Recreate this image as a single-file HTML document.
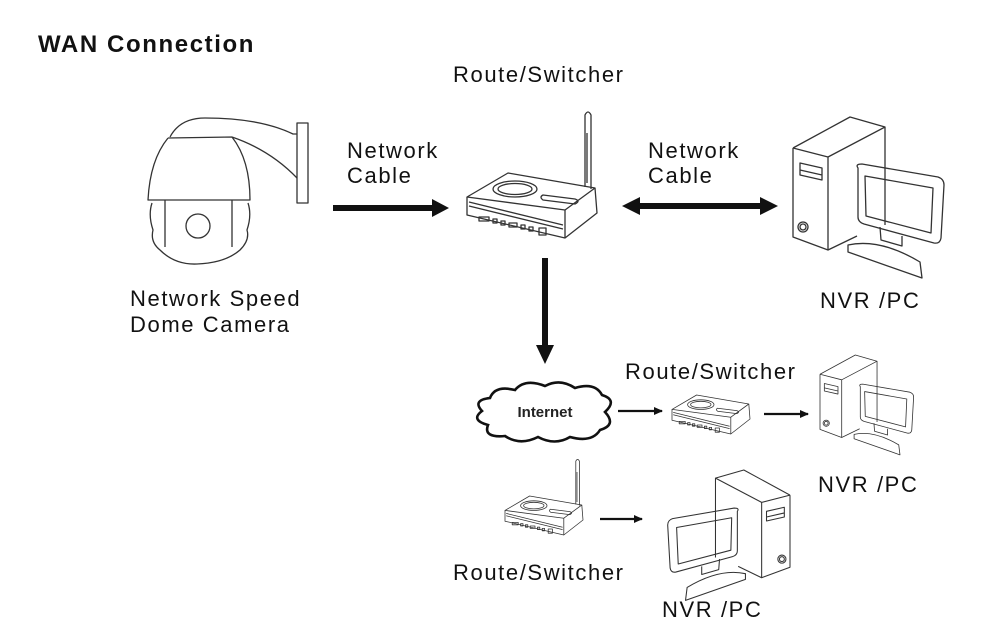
<!DOCTYPE html>
<html><head><style>
body{margin:0;background:#fff;}
svg{display:block;font-family:"Liberation Sans",Arial,sans-serif;}
.l{fill:none;stroke:#333;stroke-width:1.3;stroke-linejoin:round;}
.t{font-size:22px;fill:#111;letter-spacing:1.6px;}
</style></head><body>
<svg width="1000" height="634" viewBox="0 0 1000 634" xmlns="http://www.w3.org/2000/svg">
<defs>
<g id="router">
  <path class="l" d="M0,24 L41,0 L128,15 L98,37 Z"/>
  <path class="l" d="M0,24 L0,42 L98,65 L130,40 L128,15 M98,37 L98,65"/>
  <path class="l" d="M2,29 L96,52 M2,33 L96,56"/>
  <ellipse class="l" cx="48" cy="16" rx="22" ry="8"/>
  <ellipse class="l" cx="48" cy="16" rx="17" ry="5.5"/>
  <path class="l" d="M76,22 L108,26 Q114,28 108,31 L76,27 Q72,24 76,22Z"/>
  <path class="l" d="M12,44 h10 v4 h-10z M26,46 h4 v4 h-4z M34,48 h4 v4 h-4z M42,50 h8 v4 h-8z M54,52 h4 v4 h-4z M62,54 h4 v4 h-4z M72,55 h7 v7 h-7z"/>
</g>
<g id="ant"><path class="l" d="M118,14 L118,-58 Q121,-64 124,-58 L124,16 M120,-40 L120,10"/></g>
<g id="pc">
  <path class="l" d="M793,148 L850,117 L885,127 L885,225 M793,148 L828,157 L885,127 M793,148 L793,237 L828,250 L828,157 M828,250 L857,236"/>
  <path class="l" d="M800,163 L822,168 L822,180 L800,175Z M800,170 L822,175"/>
  <circle class="l" cx="803" cy="227" r="5"/><circle class="l" cx="803" cy="227" r="3"/>
  <path class="l" d="M858,168 Q855,164 862,164 L938,177 Q944,179 944,185 L941,238 Q940,244 934,243 L864,224 Q858,222 858,217Z"/>
  <path class="l" d="M865,176 L933,188 L931,233 L866,216Z"/>
  <path class="l" d="M880,227 L881,240 L902,246 L902,236 M848,245 Q880,238 920,262 L922,278 L848,252Z M848,245 L848,252"/>
</g>
<marker id="ah" markerWidth="10" markerHeight="10" refX="8" refY="5" orient="auto" markerUnits="userSpaceOnUse"><path d="M0,1 L9,5 L0,9Z" fill="#111"/></marker>
</defs>

<text x="38" y="52" style="font-size:24px;font-weight:bold;fill:#111;letter-spacing:1.6px">WAN Connection</text>
<text class="t" x="453" y="82">Route/Switcher</text>
<text class="t" x="347" y="158">Network</text><text class="t" x="347" y="183">Cable</text>
<text class="t" x="648" y="158">Network</text><text class="t" x="648" y="183">Cable</text>
<text class="t" x="130" y="306">Network Speed</text><text class="t" x="130" y="332">Dome Camera</text>
<text class="t" x="820" y="308">NVR /PC</text>
<text class="t" x="625" y="379">Route/Switcher</text>
<text class="t" x="818" y="492">NVR /PC</text>
<text class="t" x="453" y="580">Route/Switcher</text>
<text class="t" x="662" y="617">NVR /PC</text>

<g>
  <path class="l" d="M168,138 L232,137 M168,138 Q150,160 148,200 L250,200 Q250,160 232,137"/>
  <path class="l" d="M165,200 L165,247 M232,200 L232,247"/>
  <path class="l" d="M152,203 Q148,215 153,230 Q150,242 160,250 Q175,265 197,264 Q225,263 240,250 Q250,240 247,230 Q252,215 248,203"/>
  <circle class="l" cx="198" cy="226" r="12"/>
  <path class="l" d="M170,137 Q180,118 205,118 Q260,118 293,134 L297,134 M232,137 Q270,150 297,178"/>
  <rect class="l" x="297" y="123" width="11" height="80"/>
</g>

<g transform="translate(467,173)"><use href="#router"/><use href="#ant"/></g>
<use href="#pc"/>

<path d="M333,205 H432 V199 L449,208 L432,217 V211 H333Z" fill="#111"/>
<path d="M622,206 L640,197 V203 H760 V197 L778,206 L760,215 V209 H640 V215Z" fill="#111"/>
<path d="M542,258 H548 V345 H554 L545,364 L536,345 H542Z" fill="#111"/>

<path d="M490,398 Q495,385 515,390 Q525,378 545,386 Q560,378 575,388 Q595,382 602,395 Q618,400 605,412 Q617,425 600,430 Q592,443 570,437 Q555,446 538,437 Q520,446 505,436 Q483,438 488,425 Q470,420 482,411 Q472,400 490,398Z" fill="#fff" stroke="#111" stroke-width="2.6"/>
<text x="545" y="417" text-anchor="middle" style="font-size:15px;font-weight:bold;fill:#222">Internet</text>

<line x1="618" y1="411" x2="662" y2="411" stroke="#111" stroke-width="2.2" marker-end="url(#ah)"/>
<line x1="764" y1="414" x2="808" y2="414" stroke="#111" stroke-width="2.2" marker-end="url(#ah)"/>
<line x1="600" y1="519" x2="642" y2="519" stroke="#111" stroke-width="2.2" marker-end="url(#ah)"/>

<g transform="translate(672,395) scale(0.6)"><use href="#router"/></g>
<g transform="translate(505,496) scale(0.6)"><use href="#router"/><use href="#ant"/></g>

<g transform="translate(820,355) scale(0.62) translate(-793,-117)"><use href="#pc"/></g>
<g transform="translate(790,470) scale(-0.81,0.81) translate(-793,-117)"><use href="#pc"/></g>
</svg>
</body></html>
